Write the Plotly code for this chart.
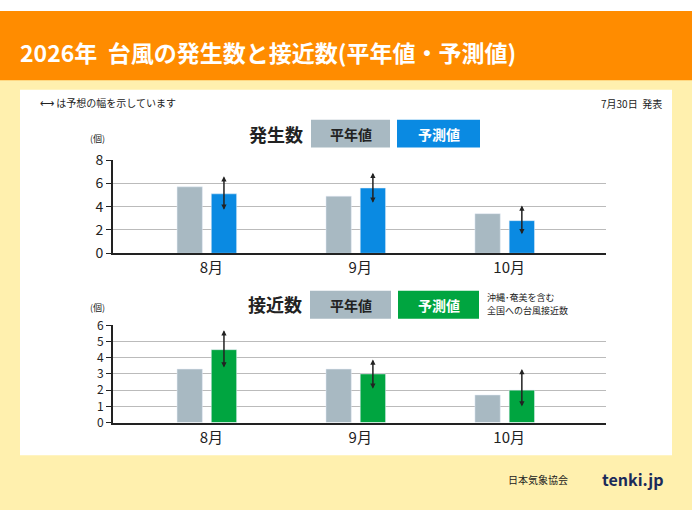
import plotly.graph_objects as go
from plotly.subplots import make_subplots

months = ["8月", "9月", "10月"]

# 発生数
gen_normal = [5.7, 4.9, 3.4]
gen_forecast = [5.1, 5.6, 2.8]
gen_low = [3.6, 4.2, 1.5]
gen_high = [6.6, 6.9, 4.1]

# 接近数
app_normal = [3.3, 3.3, 1.7]
app_forecast = [4.5, 3.0, 2.0]
app_low = [3.3, 2.0, 0.9]
app_high = [5.7, 3.9, 3.3]

W, H = 692, 519
FONT = "Noto Sans CJK JP"
GRAY = "#a8b9c2"
BLUE = "#0a8ae2"
GREEN = "#00a540"

def px_x(v):
    return v / W

def px_y(v):
    return 1 - v / H

fig = make_subplots(rows=2, cols=1)

for row, normal, fc, color in [(1, gen_normal, gen_forecast, BLUE), (2, app_normal, app_forecast, GREEN)]:
    fig.add_trace(go.Bar(x=months, y=normal, marker_color=GRAY, width=0.17, offset=-0.23,
                         showlegend=False), row=row, col=1)
    fig.add_trace(go.Bar(x=months, y=fc, marker_color=color, width=0.17, offset=0.0,
                         showlegend=False), row=row, col=1)

annotations = []
for xref, yref, low, high in [("x", "y", gen_low, gen_high), ("x2", "y2", app_low, app_high)]:
    for i, m in enumerate(months):
        annotations.append(dict(x=i + 0.085, y=high[i], ax=i + 0.085, ay=low[i],
                                xref=xref, yref=yref, axref=xref, ayref=yref,
                                text="", showarrow=True, arrowhead=2, startarrowhead=2,
                                arrowside="end+start", arrowsize=0.7, arrowwidth=1.5,
                                arrowcolor="#222"))

fig.update_xaxes(range=[-0.66, 2.65], showline=True, linecolor="#222", linewidth=2,
                 ticks="", tickfont=dict(size=15, color="#222", family=FONT))
fig.update_yaxes(showgrid=True, gridcolor="#bbbbbb", showline=True, linecolor="#222",
                 linewidth=2, ticks="outside", ticklen=5, tickcolor="#222",
                 tickfont=dict(size=14, color="#222", family=FONT), zeroline=False)
fig.update_yaxes(tickfont_size=12, row=2, col=1)
fig.update_xaxes(domain=[px_x(113), px_x(606)])
fig.update_yaxes(range=[0, 8], dtick=2, domain=[px_y(252), px_y(155)], row=1, col=1)
fig.update_yaxes(range=[0, 6], dtick=1, domain=[px_y(428), px_y(327)], row=2, col=1)

shapes = [
    dict(type="rect", xref="paper", yref="paper", x0=0, x1=1, y0=0, y1=1,
         fillcolor="#fff0ae", line_width=0, layer="below"),
    dict(type="rect", xref="paper", yref="paper", x0=0, x1=1, y0=px_y(72), y1=1,
         fillcolor="#ff8c00", line_width=0, layer="below"),
    dict(type="rect", xref="paper", yref="paper", x0=px_x(20), x1=px_x(672),
         y0=px_y(462), y1=px_y(82), fillcolor="white", line_width=0, layer="below"),
]

def box(x0, x1, y0, y1, color, label):
    shapes.append(dict(type="rect", xref="paper", yref="paper", x0=px_x(x0), x1=px_x(x1),
                       y0=px_y(y1), y1=px_y(y0), fillcolor=color, line_width=0, layer="below"))
    annotations.append(dict(x=px_x((x0 + x1) / 2), y=px_y((y0 + y1) / 2), xref="paper", yref="paper",
                            text=label, showarrow=False, yanchor="middle",
                            font=dict(size=14, color="#222" if color == GRAY else "white", family=FONT)))

box(311, 390, 113, 142, GRAY, "<b>平年値</b>")
box(397, 480, 113, 142, BLUE, "<b>予測値</b>")
box(310, 391, 291, 320, GRAY, "<b>平年値</b>")
box(398, 479, 291, 320, GREEN, "<b>予測値</b>")

def text(x, y, s, size, color="#222", anchor="left"):
    annotations.append(dict(x=px_x(x), y=px_y(y), xref="paper", yref="paper", text=s,
                            showarrow=False, xanchor=anchor, yanchor="middle",
                            font=dict(size=size, color=color, family=FONT)))

text(18, 43, "<b>2026年  台風の発生数と接近数(平年値・予測値)</b>", 23, "white")
text(38, 95, "⟷ は予想の幅を示しています", 10)
text(664, 96, "7月30日  発表", 10, anchor="right")
text(305, 128, "<b>発生数</b>", 18, anchor="right")
text(304, 305, "<b>接近数</b>", 18, anchor="right")
text(88, 133, "(個)", 9)
text(88, 308, "(個)", 9)
text(485, 298, "沖縄･奄美を含む", 9)
text(485, 311, "全国への台風接近数", 9)
text(570, 487, "日本気象協会", 10, anchor="right")
text(600, 487, "<b>tenki.jp</b>", 16, "#1a2a5a")

fig.update_layout(width=W, height=H, margin=dict(l=0, r=0, t=0, b=0),
                  paper_bgcolor="white", plot_bgcolor="rgba(0,0,0,0)",
                  shapes=shapes, annotations=annotations, barmode="overlay")

fig.write_html("out.html", config={"displayModeBar": False},
               post_script="document.documentElement.style.margin='0';document.body.style.margin='0';"
                           "document.body.style.padding='0';document.body.style.overflow='hidden';")
